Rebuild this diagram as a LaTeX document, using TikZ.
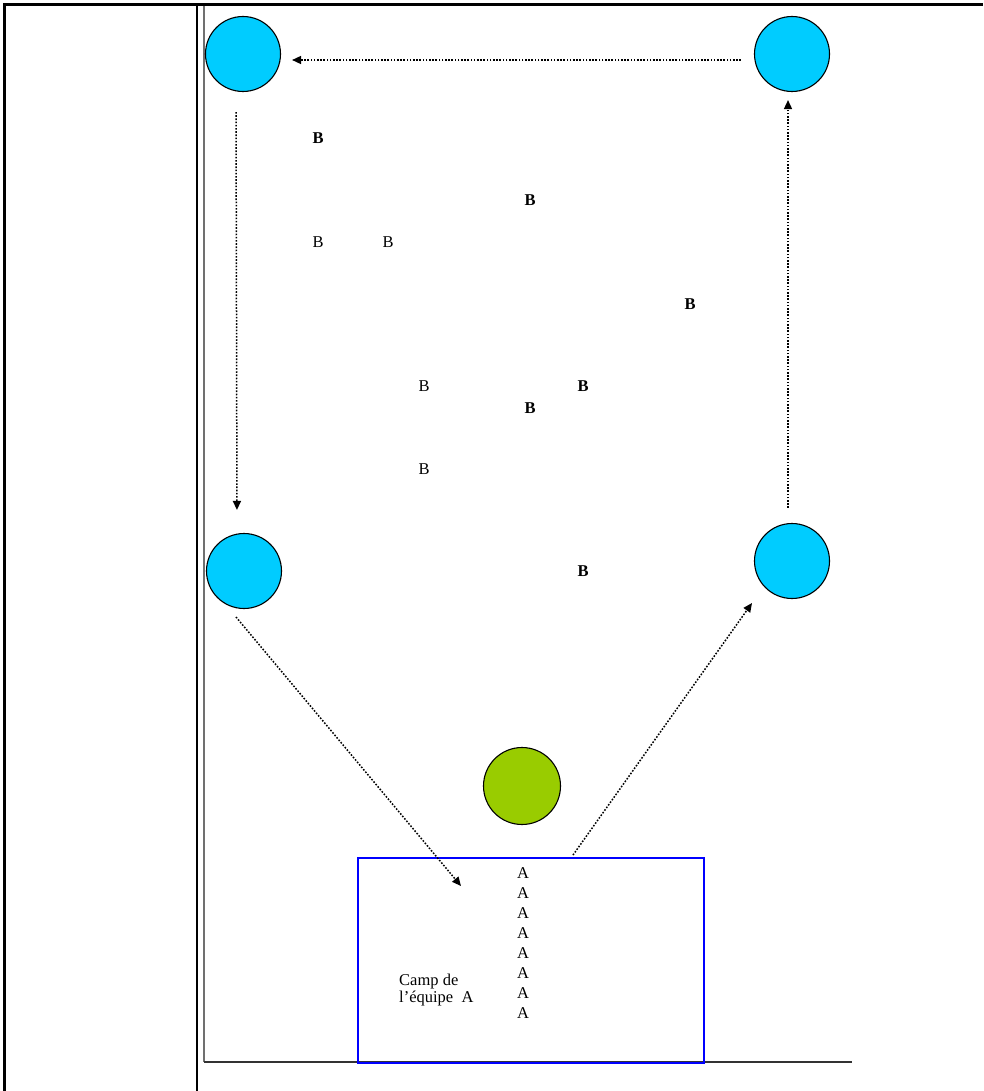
\documentclass[tikz,border=0pt]{standalone}
\usepackage{fontspec}
\setmainfont{Liberation Serif}
\usetikzlibrary{arrows.meta}
\definecolor{cyanb}{HTML}{00CCFF}
\definecolor{greenb}{HTML}{99CC00}
\definecolor{framegray}{HTML}{707070}
\begin{document}
\begin{tikzpicture}[x=1pt,y=-1pt,
  station/.style={circle, draw=black, line width=1.1pt, fill=cyanb, minimum size=75pt, inner sep=0pt},
  ball/.style={circle, draw=black, line width=1.1pt, fill=greenb, minimum size=77pt, inner sep=0pt},
  move/.style={dash pattern=on 1.6pt off 1.6pt, line width=1.5pt, -{Triangle[length=9pt,width=8pt]}},
  lbl/.style={font=\fontsize{16.5}{17}\selectfont, inner sep=0pt},
  tableline/.style={black, line width=3pt},
]
\useasboundingbox (0,0) rectangle (983,1091);
% table borders
\draw[tableline] (3,5) -- (983,5);
\draw[tableline] (4.5,5) -- (4.5,1091);
\draw[black, line width=2.5pt] (197,5) -- (197,1091);
% inner frame
\draw[framegray, line width=1.8pt] (204,6.5) -- (204,1062);
\draw[black!80, line width=2.5pt] (204,1062) -- (852,1062);
% camp box
\node[draw=blue, line width=2pt, minimum width=346pt, minimum height=205pt, inner sep=0pt, anchor=north west] (camp) at (357,857) {};
% circles
\node[station] (tl) at (243,54) {};
\node[station] (tr) at (792,54) {};
\node[station] (ml) at (244,571) {};
\node[station] (mr) at (792,561) {};
\node[ball] (ball) at (522,786) {};
% arrows
\draw[move, shorten <=13pt, shorten >=11pt] ([yshift=-6pt]tr.west) -- ([yshift=-6pt]tl.east);
\draw[move, shorten <=20pt, shorten >=23pt] ([xshift=-7pt]tl.south) -- ([xshift=-7pt]ml.north);
\draw[move, shorten <=15pt, shorten >=8pt] ([xshift=-4pt]mr.north) -- ([xshift=-4pt]tr.south);
\coordinate (s3) at (236,617);
\coordinate (e3) at (461,886);
\draw[move] (s3) -- (e3);
\coordinate (s4) at (573,855);
\coordinate (e4) at (752,603);
\draw[move] (s4) -- (e4);
% B players
\node[lbl] (b1) at (318,138) {\bfseries B};
\node[lbl] (b2) at (530,200) {\bfseries B};
\node[lbl] (b3) at (318,242) {B};
\node[lbl] (b4) at (388,242) {B};
\node[lbl] (b5) at (690,304) {\bfseries B};
\node[lbl] (b6) at (424,386) {B};
\node[lbl] (b7) at (583,386) {\bfseries B};
\node[lbl] (b8) at (530,408) {\bfseries B};
\node[lbl] (b9) at (424,469) {B};
\node[lbl] (b10) at (583,571) {\bfseries B};
% A players
\foreach \k in {0,...,7}{
  \node[lbl] (a\k) at (523,{873+20*\k}) {A};
}
\node[lbl, align=left, anchor=west] (camptxt) at (399,990) {Camp de\\l'équipe\ \ A};
\end{tikzpicture}
\end{document}
